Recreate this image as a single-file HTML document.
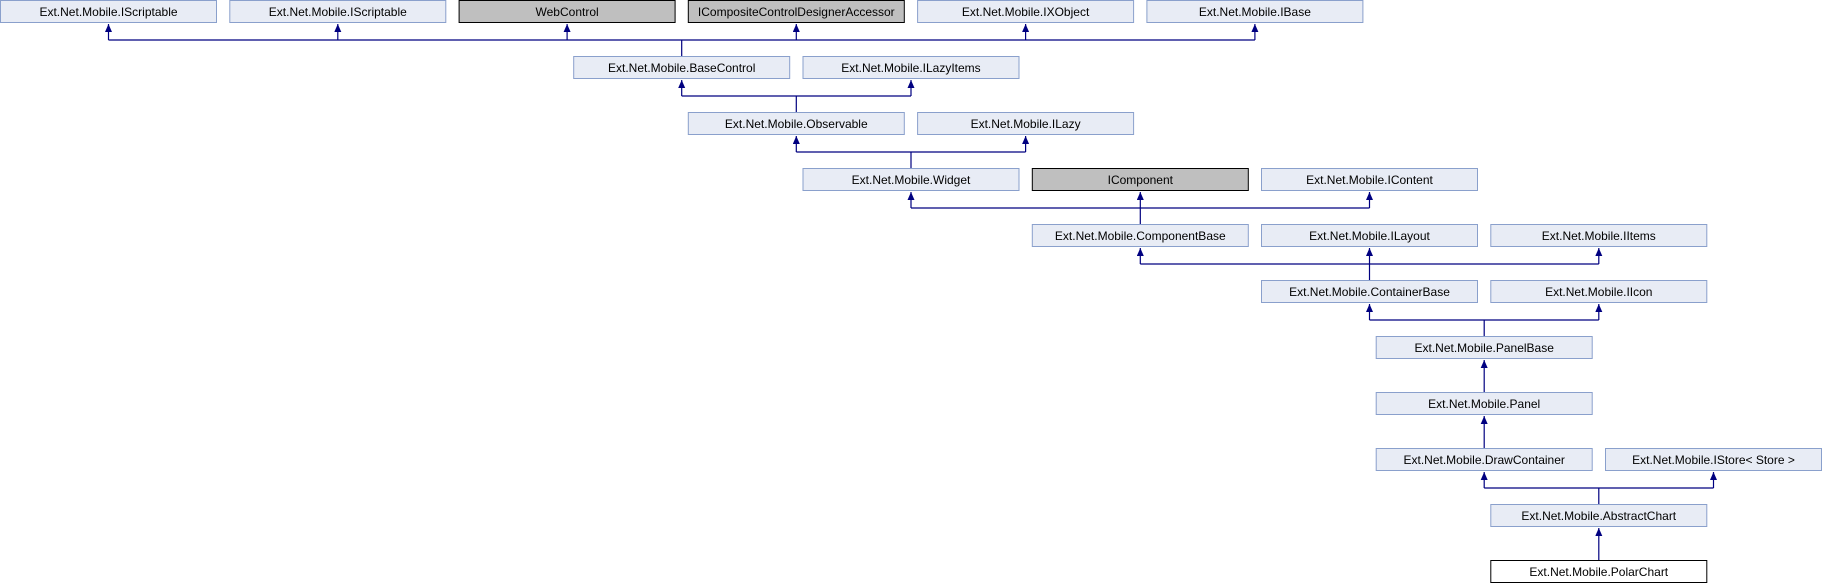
<!DOCTYPE html>
<html><head><meta charset="utf-8"><style>
html,body{margin:0;padding:0;background:#fff;}
svg{display:block;}
text{font-family:"Liberation Sans",Arial,sans-serif;font-size:12px;fill:#000;text-anchor:middle;}
.n rect{fill:#e8ecf5;stroke:#8aa0cc;stroke-width:1;}
.g rect{fill:#bfbfbf;stroke:#000;stroke-width:1;}
.w rect{fill:#fff;stroke:#000;stroke-width:1;}
.e path{stroke:#000080;stroke-width:1.2;fill:none;}
.e path.m{marker-end:url(#a);}
</style></head><body>
<svg width="1822" height="584" viewBox="0 0 1822 584" xmlns="http://www.w3.org/2000/svg">
<defs><marker id="a" markerWidth="8" markerHeight="10" refX="8" refY="3.5" orient="auto" markerUnits="userSpaceOnUse"><polygon points="0,0 8,3.5 0,7" fill="#000080"/></marker></defs>
<g class="e">
<path d="M681.7,56V40M108.5,40H1254.9"/>
<path class="m" d="M108.5,40V24"/><path class="m" d="M337.8,40V24"/><path class="m" d="M567.1,40V24"/><path class="m" d="M796.3,40V24"/><path class="m" d="M1025.6,40V24"/><path class="m" d="M1254.9,40V24"/>
<path d="M796.3,112V96M681.7,96H911"/>
<path class="m" d="M681.7,96V80"/><path class="m" d="M911,96V80"/>
<path d="M911,168V152M796.3,152H1025.6"/>
<path class="m" d="M796.3,152V136"/><path class="m" d="M1025.6,152V136"/>
<path d="M1140.3,224V208M911,208H1369.5"/>
<path class="m" d="M911,208V192"/><path class="m" d="M1140.3,208V192"/><path class="m" d="M1369.5,208V192"/>
<path d="M1369.5,280V264M1140.3,264H1598.8"/>
<path class="m" d="M1140.3,264V248"/><path class="m" d="M1369.5,264V248"/><path class="m" d="M1598.8,264V248"/>
<path d="M1484.2,336V320M1369.5,320H1598.8"/>
<path class="m" d="M1369.5,320V304"/><path class="m" d="M1598.8,320V304"/>
<path class="m" d="M1484.2,392V360"/>
<path class="m" d="M1484.2,448V416"/>
<path d="M1598.8,504V488M1484.2,488H1713.5"/>
<path class="m" d="M1484.2,488V472"/><path class="m" d="M1713.5,488V472"/>
<path class="m" d="M1598.8,560V528"/>
</g>
<g class="n"><rect x="0.5" y="0.5" width="216" height="22"/><text x="108.5" y="16">Ext.Net.Mobile.IScriptable</text></g>
<g class="n"><rect x="229.8" y="0.5" width="216" height="22"/><text x="337.8" y="16">Ext.Net.Mobile.IScriptable</text></g>
<g class="g"><rect x="459.1" y="0.5" width="216" height="22"/><text x="567.1" y="16">WebControl</text></g>
<g class="g"><rect x="688.3" y="0.5" width="216" height="22"/><text x="796.3" y="16">ICompositeControlDesignerAccessor</text></g>
<g class="n"><rect x="917.6" y="0.5" width="216" height="22"/><text x="1025.6" y="16">Ext.Net.Mobile.IXObject</text></g>
<g class="n"><rect x="1146.9" y="0.5" width="216" height="22"/><text x="1254.9" y="16">Ext.Net.Mobile.IBase</text></g>
<g class="n"><rect x="573.7" y="56.5" width="216" height="22"/><text x="681.7" y="72">Ext.Net.Mobile.BaseControl</text></g>
<g class="n"><rect x="803" y="56.5" width="216" height="22"/><text x="911" y="72">Ext.Net.Mobile.ILazyItems</text></g>
<g class="n"><rect x="688.3" y="112.5" width="216" height="22"/><text x="796.3" y="128">Ext.Net.Mobile.Observable</text></g>
<g class="n"><rect x="917.6" y="112.5" width="216" height="22"/><text x="1025.6" y="128">Ext.Net.Mobile.ILazy</text></g>
<g class="n"><rect x="803" y="168.5" width="216" height="22"/><text x="911" y="184">Ext.Net.Mobile.Widget</text></g>
<g class="g"><rect x="1032.3" y="168.5" width="216" height="22"/><text x="1140.3" y="184">IComponent</text></g>
<g class="n"><rect x="1261.5" y="168.5" width="216" height="22"/><text x="1369.5" y="184">Ext.Net.Mobile.IContent</text></g>
<g class="n"><rect x="1032.3" y="224.5" width="216" height="22"/><text x="1140.3" y="240">Ext.Net.Mobile.ComponentBase</text></g>
<g class="n"><rect x="1261.5" y="224.5" width="216" height="22"/><text x="1369.5" y="240">Ext.Net.Mobile.ILayout</text></g>
<g class="n"><rect x="1490.8" y="224.5" width="216" height="22"/><text x="1598.8" y="240">Ext.Net.Mobile.IItems</text></g>
<g class="n"><rect x="1261.5" y="280.5" width="216" height="22"/><text x="1369.5" y="296">Ext.Net.Mobile.ContainerBase</text></g>
<g class="n"><rect x="1490.8" y="280.5" width="216" height="22"/><text x="1598.8" y="296">Ext.Net.Mobile.IIcon</text></g>
<g class="n"><rect x="1376.2" y="336.5" width="216" height="22"/><text x="1484.2" y="352">Ext.Net.Mobile.PanelBase</text></g>
<g class="n"><rect x="1376.2" y="392.5" width="216" height="22"/><text x="1484.2" y="408">Ext.Net.Mobile.Panel</text></g>
<g class="n"><rect x="1376.2" y="448.5" width="216" height="22"/><text x="1484.2" y="464">Ext.Net.Mobile.DrawContainer</text></g>
<g class="n"><rect x="1605.5" y="448.5" width="216" height="22"/><text x="1713.5" y="464">Ext.Net.Mobile.IStore&lt; Store &gt;</text></g>
<g class="n"><rect x="1490.8" y="504.5" width="216" height="22"/><text x="1598.8" y="520">Ext.Net.Mobile.AbstractChart</text></g>
<g class="w"><rect x="1490.8" y="560.5" width="216" height="22"/><text x="1598.8" y="576">Ext.Net.Mobile.PolarChart</text></g>
</svg>
</body></html>
